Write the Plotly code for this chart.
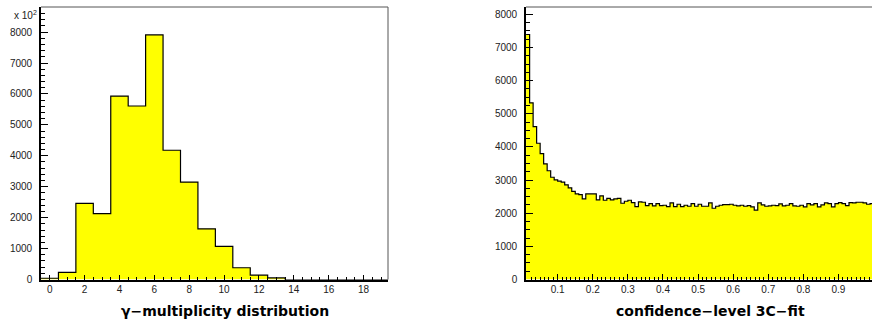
import plotly.graph_objects as go

# ---------------- data ----------------
# left: gamma multiplicity, integer bins 0..19
mult_bins = list(range(0, 20))
mult_counts = [40, 230, 2460, 2130, 5930, 5610, 7910, 4180, 3150, 1640,
               1070, 380, 140, 50, 0, 0, 0, 0, 0, 0]

# right: confidence level of 3C fit, 99 bins of width 0.01 from 0.01 to 1.00
cl_lo = 0.01
cl_width = 0.01
cl_counts = [7390, 5330, 4610, 4110, 3800, 3490, 3280, 3085, 3005, 2965,
             2935, 2855, 2765, 2660, 2580, 2560, 2430, 2580, 2580, 2580,
             2400, 2520, 2390, 2450, 2400, 2430, 2450, 2300, 2360, 2390,
             2320, 2200, 2340, 2330, 2230, 2290, 2220, 2290, 2230, 2240,
             2200, 2310, 2200, 2270, 2200, 2240, 2210, 2290, 2210, 2270,
             2210, 2210, 2310, 2150, 2210, 2240, 2260, 2260, 2270, 2240,
             2220, 2240, 2210, 2230, 2190, 2090, 2310, 2250, 2210, 2220,
             2240, 2230, 2280, 2220, 2240, 2290, 2220, 2210, 2240, 2190,
             2290, 2250, 2290, 2190, 2250, 2310, 2290, 2190, 2290, 2320,
             2290, 2230, 2320, 2310, 2330, 2330, 2310, 2270, 2290]

left_ticks = [0, 2, 4, 6, 8, 10, 12, 14, 16, 18]
left_yticks = [0, 1000, 2000, 3000, 4000, 5000, 6000, 7000, 8000]
right_ticks = [0.1, 0.2, 0.3, 0.4, 0.5, 0.6, 0.7, 0.8, 0.9]
right_yticks = [0, 1000, 2000, 3000, 4000, 5000, 6000, 7000, 8000]

left_title = "γ−multiplicity distribution"
right_title = "confidence−level 3C−fit"

# ---------------- build ----------------
W, H = 872, 322
def px(x):
    return x / W
def py(y):
    return (H - y) / H

m_edges = [b - 0.5 for b in mult_bins] + [mult_bins[-1] + 0.5]
m_y = mult_counts + [mult_counts[-1]]
c_edges = [round(cl_lo + i * cl_width, 4) for i in range(len(cl_counts) + 1)]
c_y = cl_counts + [cl_counts[-1]]

YELLOW = "#ffff00"
fig = go.Figure()
fig.add_trace(go.Scatter(x=m_edges, y=m_y, mode="lines", line_shape="hv",
                         fill="tozeroy", fillcolor=YELLOW,
                         line=dict(color="black", width=1.2),
                         xaxis="x", yaxis="y", hoverinfo="skip"))
fig.add_trace(go.Scatter(x=c_edges, y=c_y, mode="lines", line_shape="hv",
                         fill="tozeroy", fillcolor=YELLOW,
                         line=dict(color="black", width=1.2),
                         xaxis="x2", yaxis="y2", hoverinfo="skip"))

tickfont = dict(family="Liberation Sans, Arial, sans-serif", size=10, color="#222")
ydom = [py(279.5), py(7)]

base = dict(showline=True, linecolor="black", linewidth=1.6, ticks="inside",
            tickcolor="black", tickfont=tickfont, showgrid=False, zeroline=False,
            automargin=False, tickwidth=1)

fig.update_layout(
    width=W, height=H, margin=dict(l=0, r=0, t=0, b=0, autoexpand=False),
    paper_bgcolor="white", plot_bgcolor="white", showlegend=False,
    xaxis=dict(base, domain=[px(41), px(388)], range=[-0.5, 19.4], anchor="y",
               tickvals=left_ticks, ticklen=5,
               minor=dict(dtick=0.5, tick0=0, ticklen=3, ticks="inside", tickcolor="black")),
    yaxis=dict(base, domain=ydom, range=[0, 8812], anchor="x",
               tickvals=left_yticks, ticklen=7, ticklabelstandoff=5,
               minor=dict(dtick=200, tick0=0, ticklen=4, ticks="inside", tickcolor="black")),
    xaxis2=dict(base, domain=[px(526), 1.0], range=[0.0097, 0.9955], anchor="y2",
                tickvals=right_ticks, ticklen=6,
                minor=dict(dtick=0.0125, tick0=0, ticklen=3, ticks="inside", tickcolor="black")),
    yaxis2=dict(base, domain=ydom, range=[0, 8220], anchor="x2",
                tickvals=right_yticks, ticklen=7, ticklabelstandoff=5,
                minor=dict(dtick=250, tick0=0, ticklen=4, ticks="inside", tickcolor="black")),
)

# frame lines (top/right), thinner gray
fig.add_shape(type="line", xref="x domain", yref="y domain", x0=0, x1=1, y0=1, y1=1,
              line=dict(color="#555", width=1))
fig.add_shape(type="line", xref="x domain", yref="y domain", x0=1, x1=1, y0=0, y1=1,
              line=dict(color="#555", width=1))
fig.add_shape(type="line", xref="x2 domain", yref="y2 domain", x0=0, x1=1, y0=1, y1=1,
              line=dict(color="#555", width=1))

titlefont = dict(family="DejaVu Sans, Verdana, sans-serif", size=14, color="black")
fig.add_annotation(text="<b>" + left_title + "</b>", x=px(225), y=py(311), xref="paper",
                   yref="paper", showarrow=False, xanchor="center", yanchor="middle",
                   font=titlefont)
fig.add_annotation(text="<b>" + right_title + "</b>", x=px(710), y=py(311), xref="paper",
                   yref="paper", showarrow=False, xanchor="center", yanchor="middle",
                   font=titlefont)
fig.add_annotation(text="x 10<sup>2</sup>", x=px(12), y=py(15), xref="paper", yref="paper",
                   showarrow=False, xanchor="left", yanchor="middle",
                   font=dict(family="Liberation Sans, Arial, sans-serif", size=10, color="#222"))

fig.write_html("out.html")
